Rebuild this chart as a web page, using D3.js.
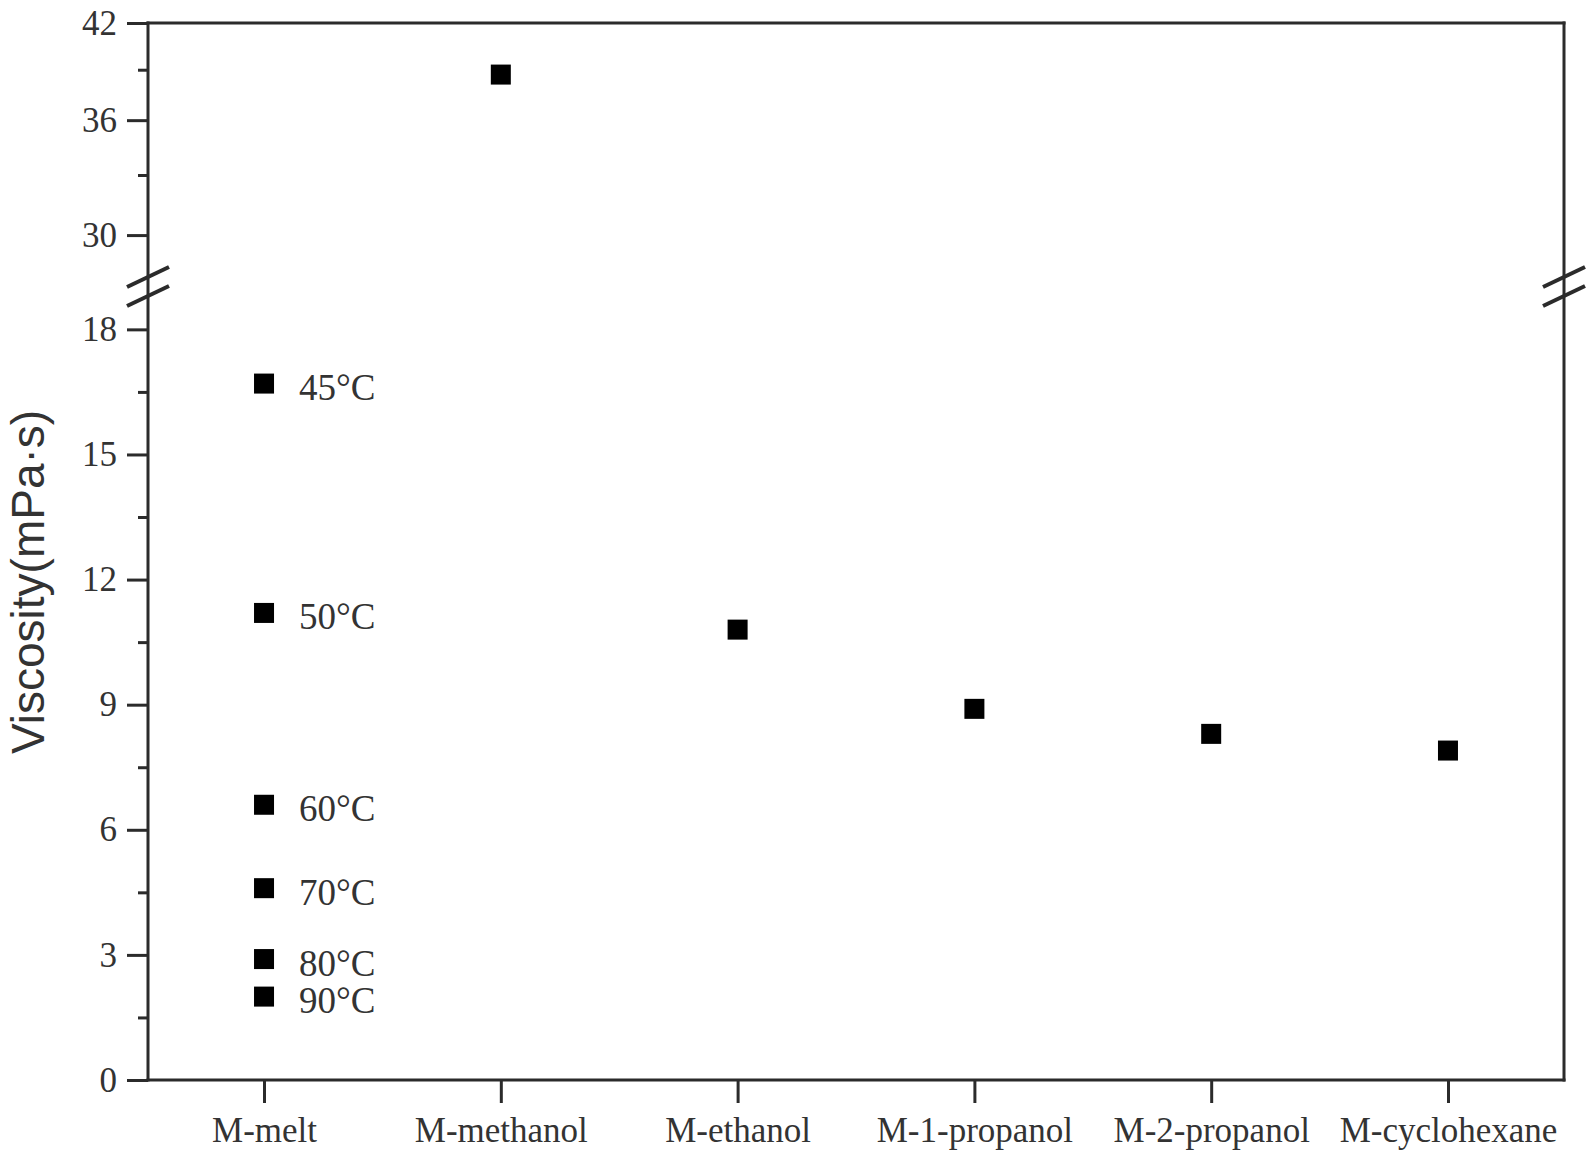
<!DOCTYPE html>
<html>
<head>
<meta charset="utf-8">
<script src="https://cdn.jsdelivr.net/npm/d3@7"></script>
<style>
  html, body { margin: 0; padding: 0; background: #fff; }
  svg { display: block; }
  .tick text { font-family: "Liberation Serif", "Times New Roman", serif; fill: #333; }
</style>
</head>
<body>
<svg id="chart" width="1594" height="1158"></svg>
<script>
// ── DATA ──────────────────────────────────────────────────────────────────
const categories = ['M-melt', 'M-methanol', 'M-ethanol', 'M-1-propanol', 'M-2-propanol', 'M-cyclohexane'];

// M-melt measured at several temperatures
const meltTemps = ['45°C', '50°C', '60°C', '70°C', '80°C', '90°C'];
const meltViscosity = [16.7, 11.2, 6.6, 4.6, 2.9, 2.0];

// the solvent systems, one value each
const solventNames = ['M-methanol', 'M-ethanol', 'M-1-propanol', 'M-2-propanol', 'M-cyclohexane'];
const solventViscosity = [38.7, 10.8, 8.9, 8.3, 7.9];

const lowerTicks = [0, 3, 6, 9, 12, 15, 18];
const lowerMinor = [1.5, 4.5, 7.5, 10.5, 13.5, 16.5];
const upperTicks = [30, 36, 42];
const upperMinor = [33, 39];

// ── LAYOUT ────────────────────────────────────────────────────────────────
const svg = d3.select('#chart');
const plotL = 148, plotR = 1564, plotT = 23, plotB = 1080;
const breakTop = 277, breakBottom = 296;
const ink = '#2b2b2b';

const x = d3.scalePoint().domain(categories).range([plotL, plotR]).padding(0.49);
// lower part is linear, the part above the break is log-scaled
const yLow = d3.scaleLinear().domain([0, 18.8]).range([plotB, breakBottom]);
const yHigh = d3.scaleLog().domain([28.07, 42]).range([breakTop, plotT]);
const y = v => v > 25 ? yHigh(v) : yLow(v);

// ── AXES ──────────────────────────────────────────────────────────────────
const drawY = (scale, ticks, minor) => {
  const g = svg.append('g').attr('transform', `translate(${plotL},0)`);
  g.call(d3.axisLeft(scale).tickValues(ticks).tickSize(21).tickPadding(10).tickSizeOuter(0).tickFormat(d3.format('d')));
  g.select('.domain').remove();
  g.selectAll('.tick line').attr('stroke', ink).attr('stroke-width', 3);
  g.selectAll('.tick text').attr('font-size', 35);

  const m = svg.append('g').attr('transform', `translate(${plotL},0)`);
  m.call(d3.axisLeft(scale).tickValues(minor).tickSize(10).tickFormat(''));
  m.select('.domain').remove();
  m.selectAll('.tick line').attr('stroke', ink).attr('stroke-width', 3);
};
drawY(yLow, lowerTicks, lowerMinor);
drawY(yHigh, upperTicks, upperMinor);

const xg = svg.append('g').attr('transform', `translate(0,${plotB})`);
xg.call(d3.axisBottom(x).tickSize(23).tickSizeOuter(0));
xg.select('.domain').remove();
xg.selectAll('.tick line').attr('stroke', ink).attr('stroke-width', 3);
xg.selectAll('.tick text').attr('font-size', 35).attr('y', 62).attr('dy', 0);

// frame
const frame = [
  [plotL, plotT, plotR, plotT],
  [plotR, plotT, plotR, plotB],
  [plotL, plotB, plotR, plotB],
  [plotL, plotT, plotL, plotB]
];
svg.append('g').selectAll('line').data(frame).join('line')
  .attr('x1', d => d[0]).attr('y1', d => d[1])
  .attr('x2', d => d[2]).attr('y2', d => d[3])
  .attr('stroke', ink).attr('stroke-width', 3).attr('stroke-linecap', 'square');

// axis break marks on both sides
[plotL, plotR].forEach(bx => {
  [breakTop, breakBottom].forEach(by => {
    svg.append('line')
      .attr('x1', bx - 21).attr('y1', by + 10)
      .attr('x2', bx + 21).attr('y2', by - 10)
      .attr('stroke', ink).attr('stroke-width', 4);
  });
});

// ── POINTS ────────────────────────────────────────────────────────────────
const sq = 20;
const melt = meltViscosity.map((v, i) => ({ cat: 'M-melt', v, label: meltTemps[i] }));
const solvents = solventViscosity.map((v, i) => ({ cat: solventNames[i], v }));

svg.append('g').selectAll('rect').data(melt.concat(solvents)).join('rect')
  .attr('x', d => x(d.cat) - sq / 2)
  .attr('y', d => y(d.v) - sq / 2)
  .attr('width', sq).attr('height', sq)
  .attr('fill', '#000');

svg.append('g').selectAll('text').data(melt).join('text')
  .attr('x', d => x(d.cat) + 35)
  .attr('y', d => y(d.v) + 4)
  .attr('dominant-baseline', 'central')
  .attr('font-family', '"Liberation Serif", "Times New Roman", serif')
  .attr('font-size', 37)
  .attr('fill', '#333')
  .text(d => d.label);

// ── Y TITLE ───────────────────────────────────────────────────────────────
svg.append('text')
  .attr('transform', 'translate(28,582) rotate(-90)')
  .attr('text-anchor', 'middle')
  .attr('dominant-baseline', 'central')
  .attr('font-family', '"Liberation Sans", Arial, sans-serif')
  .attr('font-size', 46)
  .attr('fill', '#333')
  .text('Viscosity(mPa·s)');
</script>
</body>
</html>
